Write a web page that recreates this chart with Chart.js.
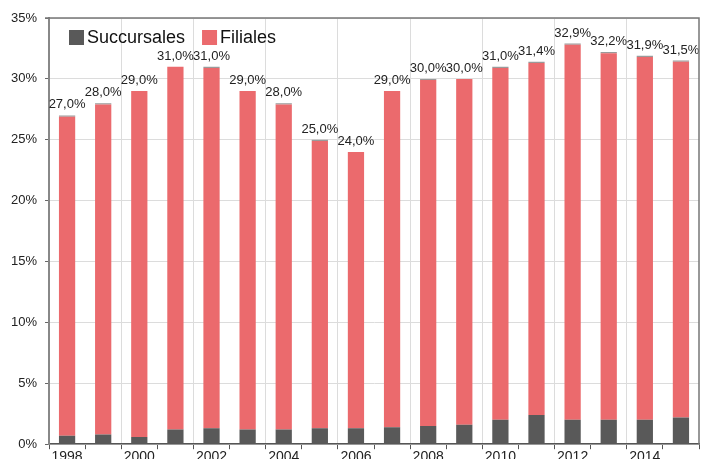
<!DOCTYPE html>
<html lang="fr">

<head>
    <meta charset="UTF-8">
    <title>Succursales et filiales</title>
    <script src="https://cdn.jsdelivr.net/npm/chart.js"></script>
    <style>
        html, body { margin: 0; padding: 0; background: #fff; overflow: hidden; }
        .wrap { position: relative; width: 701px; height: 466px; }
    </style>
</head>

<body>
    <div class="wrap">
        <canvas id="barChart"></canvas>
    </div>

    <script>
        const years = ['1998', '1999', '2000', '2001', '2002', '2003', '2004', '2005', '2006',
                       '2007', '2008', '2009', '2010', '2011', '2012', '2013', '2014', '2015'];
        const succursales = [0.7, 0.8, 0.6, 1.2, 1.3, 1.2, 1.2, 1.3, 1.3, 1.4, 1.5, 1.6, 2.0, 2.4, 2.0, 2.0, 2.0, 2.2];
        const filiales = [26.2, 27.1, 28.4, 29.8, 29.6, 27.8, 26.7, 23.6, 22.7, 27.6, 28.4, 28.4, 28.9, 28.9, 30.8, 30.1, 29.8, 29.2];
        // thin remainder on top of some bars
        const autres = [0.1, 0.1, 0, 0, 0.1, 0, 0.1, 0.1, 0, 0, 0.1, 0, 0.1, 0.1, 0.1, 0.1, 0.1, 0.1];

        const FONT = '"Liberation Sans", Arial, sans-serif';

        // total above each stack, French decimal comma
        const totalLabels = {
            id: 'totalLabels',
            afterDatasetsDraw(chart) {
                const { ctx } = chart;
                const top = chart.getDatasetMeta(chart.data.datasets.length - 1);
                ctx.save();
                ctx.font = '13px ' + FONT;
                ctx.fillStyle = '#222';
                ctx.textAlign = 'center';
                ctx.textBaseline = 'alphabetic';
                top.data.forEach((bar, i) => {
                    const sum = chart.data.datasets.reduce((s, d) => s + d.data[i], 0);
                    const txt = sum.toFixed(1).replace('.', ',') + '%';
                    ctx.fillText(txt, bar.x, bar.y - 7);
                });
                ctx.restore();
            }
        };

        // frame on top and right, legend inside the plot
        const frameAndLegend = {
            id: 'frameAndLegend',
            afterDraw(chart) {
                const { ctx, chartArea: a } = chart;
                ctx.save();
                ctx.strokeStyle = '#777';
                ctx.lineWidth = 1.5;
                ctx.beginPath();
                ctx.moveTo(a.left - 4, a.top);
                ctx.lineTo(a.right, a.top);
                ctx.lineTo(a.right, a.bottom);
                ctx.stroke();

                ctx.font = '18px ' + FONT;
                ctx.textBaseline = 'middle';
                let x = 69;
                chart.data.datasets.slice(0, 2).forEach(ds => {
                    ctx.fillStyle = ds.backgroundColor;
                    ctx.fillRect(x, 30, 15, 15);
                    ctx.fillStyle = '#111';
                    ctx.fillText(ds.label, x + 18, 38);
                    x += 18 + ctx.measureText(ds.label).width + 17;
                });
                ctx.restore();
            }
        };

        new Chart(document.getElementById('barChart'), {
            type: 'bar',
            data: {
                labels: years,
                datasets: [{
                    label: 'Succursales',
                    data: succursales,
                    backgroundColor: '#595959'
                }, {
                    label: 'Filiales',
                    data: filiales,
                    backgroundColor: '#EB6A6D'
                }, {
                    label: 'Autres',
                    data: autres,
                    backgroundColor: '#9a9a9a'
                }]
            },
            options: {
                responsive: true,
                maintainAspectRatio: false,
                animation: false,
                datasets: {
                    bar: { barPercentage: 0.9, categoryPercentage: 0.5 }
                },
                layout: { padding: { top: 18, left: 3, right: 2, bottom: 0 } },
                plugins: {
                    legend: { display: false },
                    tooltip: { enabled: false }
                },
                scales: {
                    x: {
                        stacked: true,
                        grid: {
                            offset: true,
                            color: c => c.index % 2 === 0 ? '#dcdcdc' : 'rgba(0,0,0,0)',
                            tickColor: '#555',
                            tickLength: 5
                        },
                        border: { color: '#555', width: 1.5 },
                        ticks: {
                            autoSkip: false,
                            maxRotation: 0,
                            padding: 0,
                            color: '#222',
                            font: { family: FONT, size: 14 },
                            callback: function (v, i) { return i % 2 === 0 ? this.getLabelForValue(v) : ''; }
                        }
                    },
                    y: {
                        stacked: true,
                        min: 0,
                        max: 35,
                        grid: { color: '#dcdcdc', tickColor: '#666', tickLength: 4 },
                        border: { color: '#888', width: 2 },
                        ticks: {
                            stepSize: 5,
                            padding: 8,
                            color: '#222',
                            font: { family: FONT, size: 13 },
                            callback: v => v + '%'
                        }
                    }
                }
            },
            plugins: [totalLabels, frameAndLegend]
        });
    </script>

</body>

</html>
